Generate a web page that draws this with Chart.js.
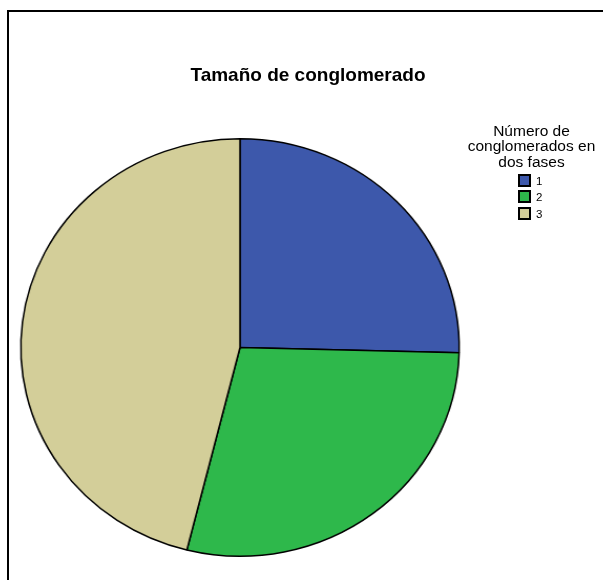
<!DOCTYPE html>
<html>
<head>
<meta charset="utf-8">
<script src="https://cdn.jsdelivr.net/npm/chart.js@4"></script>
<style>
  html, body { margin: 0; padding: 0; background: #fff; width: 603px; height: 580px; overflow: hidden; font-family: "Liberation Sans", Arial, sans-serif; }
  #frame { position: absolute; left: 7px; top: 10px; width: 700px; height: 700px; border-left: 2px solid #000; border-top: 2px solid #000; }
  #wrap { position: absolute; left: 0; top: 0; width: 603px; height: 580px; transform: scaleX(1.05); transform-origin: 240px 0; }
  #title { position: absolute; left: 0; width: 616px; top: 64px; text-align: center; font-weight: bold; font-size: 19px; color: #000; white-space: nowrap; }
  #legend { position: absolute; left: 441.5px; width: 180px; top: 122.5px; text-align: center; font-size: 15.5px; line-height: 15.8px; color: #000; white-space: nowrap; }
  .item { position: absolute; font-size: 11.5px; line-height: 12px; color: #000; }
  .box { position: absolute; width: 9px; height: 9px; border: 2px solid #000; }
</style>
</head>
<body>
<div id="frame"></div>
<div id="wrap"><canvas id="c" width="603" height="580"></canvas></div>
<div id="title"></div>
<div id="legend"></div>
<script>
const chartTitle = "Tamaño de conglomerado";
const legendTitle = ["Número de", "conglomerados en", "dos fases"];
const categories = ["1", "2", "3"];
const values = [25.4, 28.5, 46.1];
const colors = ["#3d58ab", "#2eb84b", "#d3ce99"];

document.getElementById("title").textContent = chartTitle;
const lg = document.getElementById("legend");
legendTitle.forEach(t => { const d = document.createElement("div"); d.textContent = t; lg.appendChild(d); });
categories.forEach((c, i) => {
  const top = 174 + i * 16.3;
  const b = document.createElement("div"); b.className = "box";
  b.style.left = "517.5px"; b.style.top = top + "px"; b.style.background = colors[i];
  document.body.appendChild(b);
  const t = document.createElement("div"); t.className = "item";
  t.style.left = "536px"; t.style.top = (top + 1) + "px"; t.textContent = c;
  document.body.appendChild(t);
});

new Chart(document.getElementById("c"), {
  type: "pie",
  data: { labels: categories, datasets: [{ data: values, backgroundColor: colors, borderColor: "#000", borderWidth: 1.5 }] },
  options: {
    responsive: false, animation: false,
    layout: { padding: { left: 30.5, right: 153.5, top: 138, bottom: 23 } },
    plugins: { legend: { display: false }, title: { display: false }, tooltip: { enabled: false } }
  }
});
</script>
</body>
</html>
